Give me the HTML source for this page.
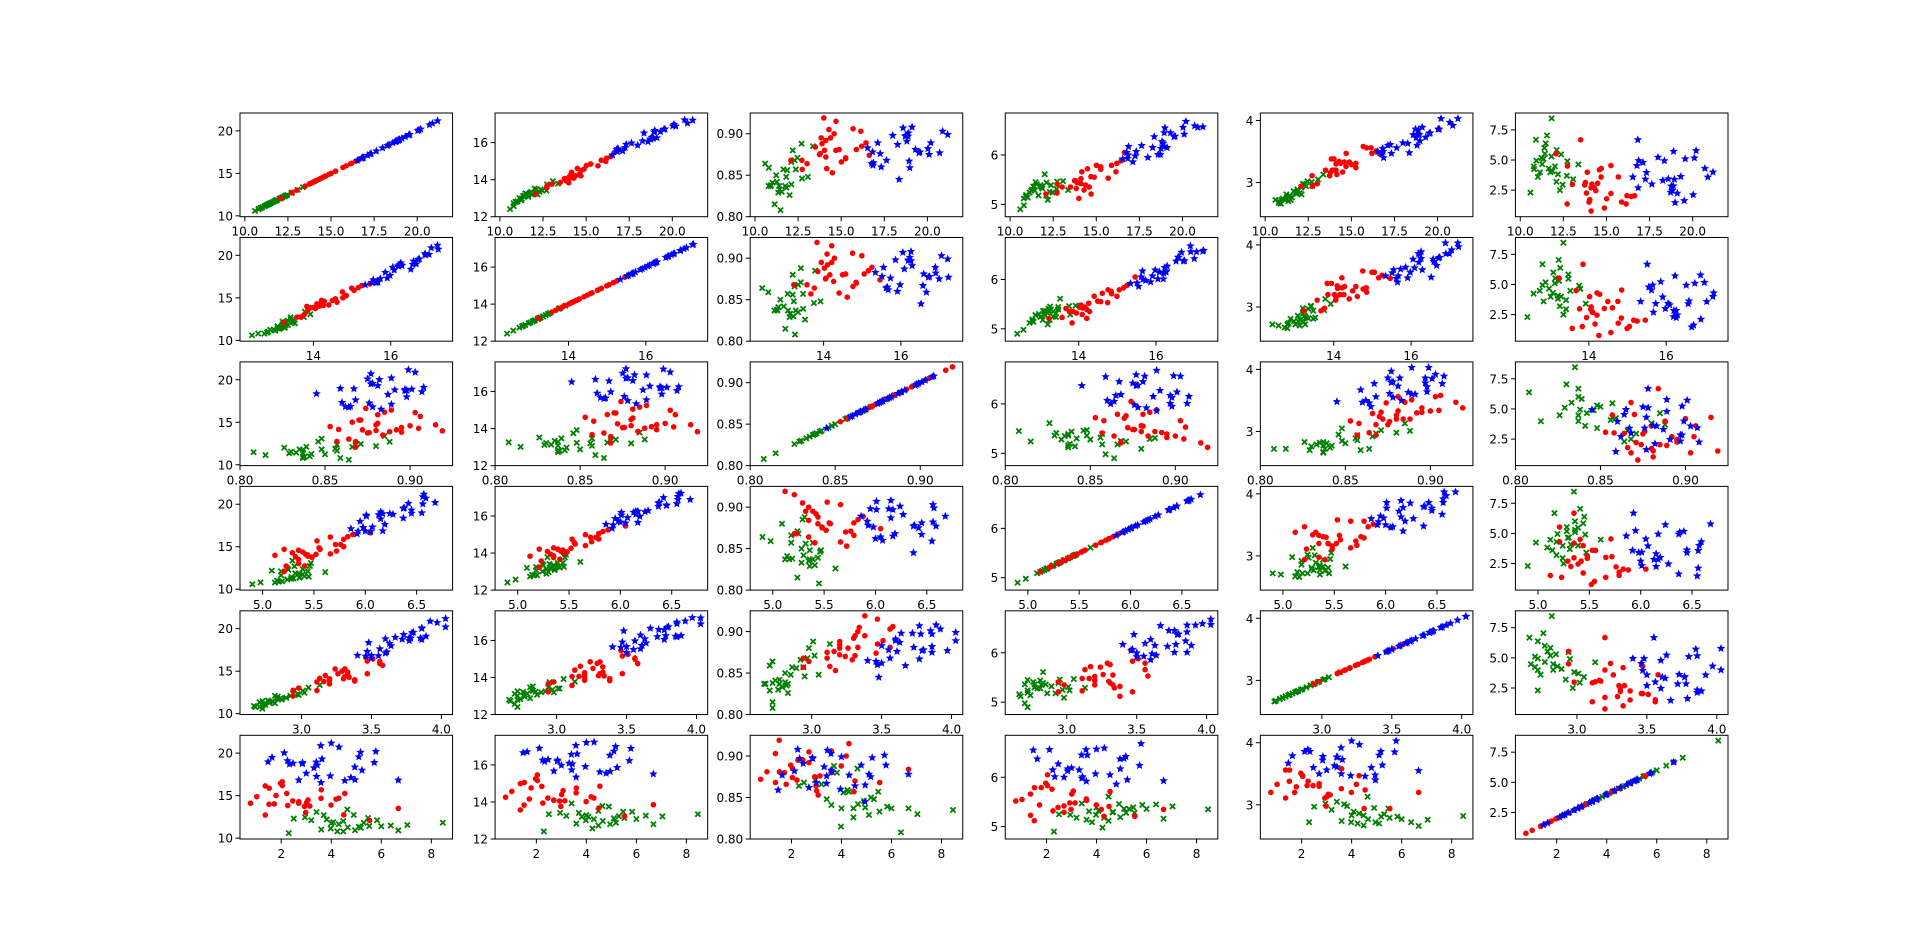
<!DOCTYPE html>
<html><head><meta charset="utf-8"><style>
html,body{margin:0;padding:0;background:#fff;}
svg text{font-family:"DejaVu Sans","Liberation Sans",sans-serif;font-size:12px;fill:#000;}
</style></head>
<body>
<svg id="fig" width="1920" height="943" xmlns="http://www.w3.org/2000/svg"></svg>
<script>
// ---- data (seeds dataset, approximate) ----
const featureNames = ["area","perimeter","compactness","length","width","asymmetry"];
const greenArea=[11.23,10.93,12.70,11.27,11.40,12.10,10.59,11.87,12.37,11.55,10.79,12.11,11.14,13.37,11.82,12.19,11.35,10.80,12.46,11.48,12.73,11.02,11.81,12.01,13.07,10.91,11.65,12.30,11.43,11.75];
const greenPerim=[12.88,12.80,13.41,12.97,13.08,13.25,12.41,13.20,13.47,13.22,12.73,13.47,13.01,13.78,13.34,13.20,13.12,12.57,13.41,13.26,13.75,12.83,13.23,13.52,13.92,12.80,13.07,13.34,13.13,13.28];
const greenCompact=[0.850,0.838,0.888,0.842,0.837,0.866,0.864,0.856,0.857,0.830,0.837,0.839,0.815,0.885,0.835,0.880,0.829,0.859,0.871,0.808,0.846,0.841,0.848,0.826,0.848,0.837,0.857,0.868,0.833,0.837];
const greenLength=[5.28,5.19,5.31,5.30,5.36,5.18,4.90,5.32,5.39,5.41,5.12,5.44,5.24,5.29,5.35,5.09,5.36,4.98,5.24,5.45,5.46,5.14,5.36,5.61,5.47,5.16,5.18,5.25,5.28,5.39];
const greenWidth=[2.81,2.72,3.01,2.77,2.77,2.92,2.72,2.89,2.94,2.76,2.67,2.81,2.72,3.13,2.82,2.98,2.70,2.70,3.02,2.72,2.95,2.74,2.85,2.83,3.05,2.66,2.86,2.97,2.79,2.83];
const greenAsym=[5.18,4.95,3.70,4.66,6.00,3.20,2.30,4.08,5.47,7.04,4.48,5.83,3.98,4.64,8.46,3.82,5.10,4.24,2.95,6.38,4.90,3.60,5.30,4.48,3.41,6.68,4.30,2.50,5.52,4.00];

const redArea=[15.26,14.88,14.29,13.84,16.14,14.38,14.69,14.11,16.63,16.44,15.26,14.03,13.89,13.78,13.74,14.59,13.99,15.69,14.70,12.72,14.16,14.11,15.88,12.08,15.01,16.19,13.02,12.74,14.49,13.50];
const redPerim=[14.84,14.57,14.09,13.94,14.99,14.21,14.49,14.10,15.46,15.25,14.85,14.16,14.02,14.06,14.05,14.28,13.83,14.75,14.21,13.57,14.40,14.26,15.05,13.23,14.76,15.16,13.76,13.67,14.61,13.85];
const redCompact=[0.871,0.881,0.905,0.895,0.903,0.895,0.880,0.892,0.874,0.889,0.870,0.880,0.888,0.876,0.875,0.900,0.919,0.906,0.915,0.868,0.858,0.872,0.881,0.868,0.866,0.885,0.864,0.857,0.853,0.884];
const redLength=[5.76,5.55,5.29,5.32,5.66,5.39,5.56,5.42,6.05,5.88,5.71,5.44,5.44,5.48,5.48,5.35,5.12,5.53,5.21,5.23,5.66,5.52,5.79,5.21,5.79,5.83,5.35,5.41,5.72,5.35];
const redWidth=[3.31,3.33,3.34,3.38,3.56,3.31,3.26,3.30,3.46,3.51,3.24,3.20,3.20,3.16,3.11,3.33,3.38,3.58,3.47,3.11,3.13,3.20,3.56,2.94,3.29,3.47,2.98,2.94,3.17,3.20];
const redAsym=[2.22,1.02,2.70,2.26,1.36,2.46,3.59,2.70,2.04,1.97,4.54,1.72,3.99,3.14,2.93,4.19,1.51,3.60,4.30,1.36,3.01,0.77,1.52,5.53,1.79,2.04,2.98,4.50,3.07,6.68];

const blueArea=[17.63,16.84,17.26,19.11,16.82,16.77,17.32,20.71,18.94,17.12,16.53,18.72,20.20,19.57,19.51,18.27,18.88,18.98,21.18,20.88,20.10,18.76,18.81,18.59,18.36,16.87,19.31,18.89,20.03,17.99];
const bluePerim=[15.98,15.67,15.73,16.26,15.51,15.62,15.91,17.23,16.57,15.55,15.34,16.19,16.89,16.74,16.71,16.09,16.26,16.66,17.21,17.05,16.99,16.20,16.29,16.05,16.52,15.65,16.59,16.23,16.90,15.86];
const blueCompact=[0.868,0.862,0.876,0.908,0.878,0.864,0.860,0.877,0.867,0.889,0.883,0.897,0.889,0.878,0.877,0.887,0.897,0.859,0.899,0.903,0.875,0.898,0.891,0.907,0.845,0.865,0.881,0.901,0.882,0.898];
const blueLength=[6.19,6.00,5.98,6.15,5.93,6.05,6.07,6.59,6.45,5.86,5.92,6.01,6.68,6.38,6.37,6.15,6.17,6.55,6.57,6.56,6.42,6.13,6.27,6.01,6.37,6.17,6.45,6.24,6.56,5.95];
const blueWidth=[3.56,3.50,3.61,3.89,3.55,3.46,3.47,3.97,3.77,3.60,3.50,3.86,4.03,3.80,3.79,3.63,3.78,3.67,4.03,3.92,3.86,3.72,3.60,3.77,3.48,3.40,3.73,3.85,3.86,3.64];
const blueAsym=[3.00,2.70,3.41,2.25,6.68,4.54,3.96,4.31,3.40,4.79,3.59,2.33,5.78,5.10,1.63,3.31,2.85,1.47,4.00,3.58,5.17,2.84,2.47,3.44,4.94,4.95,3.63,5.72,2.12,5.23];

// tick labels per feature
const xTickLabels=[["10.0","12.5","15.0","17.5","20.0"],["14","16"],["0.80","0.85","0.90"],["5.0","5.5","6.0","6.5"],["3.0","3.5","4.0"],["2","4","6","8"]];
const yTickLabels=[["10","15","20"],["12","14","16"],["0.80","0.85","0.90"],["5","6"],["3","4"],["2.5","5.0","7.5"]];
// axis limits per feature
const xLo=[9.72,12.1,0.800,4.78,2.56,0.35];
const xHi=[22.05,17.6,0.925,6.85,4.08,8.85];
const yLo=[9.9,12.0,0.80,4.75,2.45,0.3];
const yHi=[22.1,17.6,0.925,6.85,4.12,8.9];

// ---- drawing ----
const NS="http://www.w3.org/2000/svg";
const svg=document.getElementById('fig');
const green=[greenArea,greenPerim,greenCompact,greenLength,greenWidth,greenAsym];
const red=[redArea,redPerim,redCompact,redLength,redWidth,redAsym];
const blue=[blueArea,bluePerim,blueCompact,blueLength,blueWidth,blueAsym];
function mk(tag,attrs,parent){const e=document.createElementNS(NS,tag);for(const k in attrs)e.setAttribute(k,attrs[k]);(parent||svg).appendChild(e);return e;}
const L=240,R=1728,T=113,B=839,n=6;
const W=(R-L)/(n+(n-1)*0.2),H=(B-T)/(n+(n-1)*0.2);
function star(cx,cy,r){let p=[];for(let i=0;i<10;i++){const rr=i%2?r*0.45:r;const a=-Math.PI/2+i*Math.PI/5;p.push((cx+rr*Math.cos(a)).toFixed(1)+','+(cy+rr*Math.sin(a)).toFixed(1));}return p.join(' ');}
for(let r=0;r<n;r++){for(let c=0;c<n;c++){
  const x0=L+c*W*1.2,y0=T+r*H*1.2;
  const g=mk('g',{});
  
  
  const xa=xLo[r],xb=xHi[r];const ya=yLo[c],yb=yHi[c];
  const sx=v=>x0+(v-xa)/(xb-xa)*W, sy=v=>y0+H-(v-ya)/(yb-ya)*H;
  const clip='c'+r+'_'+c;
  const cp=mk('clipPath',{id:clip},g);mk('rect',{x:x0,y:y0,width:W,height:H},cp);
  const pts=mk('g',{'clip-path':'url(#'+clip+')'},g);
  for(let i=0;i<green[r].length;i++){const px=sx(green[r][i]),py=sy(green[c][i]);
    const m=mk('path',{d:`M${px-2.6},${py-2.6}L${px+2.6},${py+2.6}M${px-2.6},${py+2.6}L${px+2.6},${py-2.6}`,stroke:'#008000','stroke-width':1.8,fill:'none'},pts);
    
    }
  for(let i=0;i<red[r].length;i++){
    const m=mk('circle',{cx:sx(red[r][i]),cy:sy(red[c][i]),r:2.8,fill:'#ff0000'},pts);
    
    }
  for(let i=0;i<blue[r].length;i++){
    const m=mk('polygon',{points:star(sx(blue[r][i]),sy(blue[c][i]),3.4),fill:'#0000ff',stroke:'#0000ff','stroke-width':0.8},pts);
    
    }
  mk('rect',{x:x0,y:y0,width:W,height:H,fill:'none',stroke:'#000','stroke-width':1},g);
  xTickLabels[r].forEach(t=>{const v=parseFloat(t);if(v<xa-1e-9||v>xb)return;const px=sx(v);
    mk('line',{x1:px,x2:px,y1:y0+H,y2:y0+H+4.5,stroke:'#000','stroke-width':1},g);
    const tx=mk('text',{x:px,y:y0+H+19,'text-anchor':'middle'},g);tx.textContent=t;
    
    });
  yTickLabels[c].forEach(t=>{const v=parseFloat(t);if(v<ya-1e-9||v>yb)return;const py=sy(v);
    mk('line',{x1:x0-4.5,x2:x0,y1:py,y2:py,stroke:'#000','stroke-width':1},g);
    const tx=mk('text',{x:x0-7,y:py+4.5,'text-anchor':'end'},g);tx.textContent=t;
    
    });
}}
</script>
</body></html>
